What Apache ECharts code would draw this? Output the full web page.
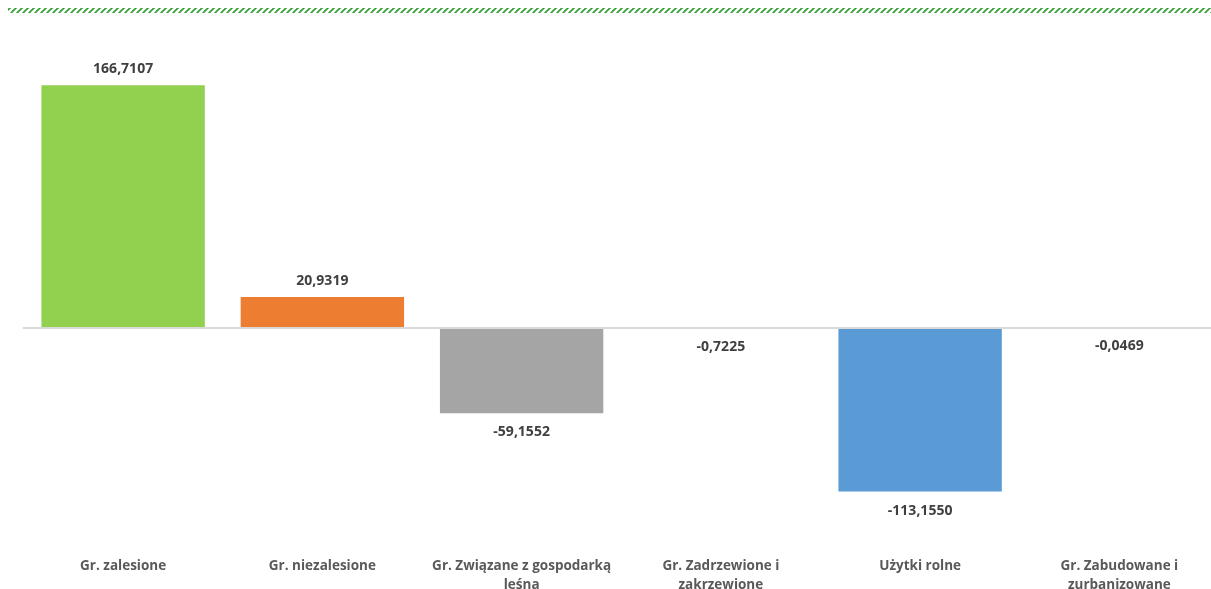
<!DOCTYPE html>
<html>
<head>
<meta charset="utf-8">
<script src="https://cdn.jsdelivr.net/npm/echarts@6/dist/echarts.min.js"></script>
<style>
  html, body { margin: 0; padding: 0; background: #fff; }
  #main { width: 1211px; height: 589px; }
</style>
</head>
<body>
<div id="main"></div>
<script>
var categories = ['Gr. zalesione', 'Gr. niezalesione', 'Gr. Związane z gospodarką\nleśna',
  'Gr. Zadrzewione i\nzakrzewione', 'Użytki rolne', 'Gr. Zabudowane i\nzurbanizowane'];
var values = [166.7107, 20.9319, -59.1552, -0.7225, -113.1550, -0.0469];
var barColors = ['#92d050', '#ed7d31', '#a5a5a5', '#ffc000', '#5b9bd5', '#70ad47'];

// hatched green strip at the top
var pat = document.createElement('canvas');
pat.width = 6; pat.height = 6;
var ctx = pat.getContext('2d');
ctx.strokeStyle = '#2e9e2e';
ctx.lineWidth = 1.6;
ctx.beginPath();
ctx.moveTo(0, 6); ctx.lineTo(6, 0);
ctx.moveTo(-3, 3); ctx.lineTo(3, -3);
ctx.moveTo(3, 9); ctx.lineTo(9, 3);
ctx.stroke();

var myChart = echarts.init(document.getElementById('main'));

var option = {
  animation: false,
  textStyle: { fontFamily: 'Open Sans' },
  graphic: [{
    type: 'rect',
    shape: { x: 8, y: 8, width: 1203, height: 5 },
    style: { fill: { image: pat, repeat: 'repeat' } }
  }],
  grid: { left: 23.5, width: 1195.5, top: 37, height: 508, outerBoundsMode: 'none', containLabel: false },
  xAxis: [
    {
      type: 'category',
      data: categories,
      axisLine: { show: false, onZero: false },
      axisTick: { show: false },
      axisLabel: {
        interval: 0,
        margin: 12,
        color: '#595959',
        fontWeight: 'bold',
        fontSize: 13.5,
        lineHeight: 19
      }
    },
    {
      type: 'category',
      data: categories,
      position: 'bottom',
      z: 10,
      axisLine: { show: true, onZero: true, lineStyle: { color: '#d9d9d9', width: 2 } },
      axisTick: { show: false },
      axisLabel: { show: false }
    }
  ],
  yAxis: {
    type: 'value',
    min: -150,
    max: 200,
    show: false,
    splitLine: { show: false }
  },
  series: [{
    type: 'bar',
    barWidth: '82%',
    data: values.map(function (v, i) {
      return {
        value: v,
        itemStyle: { color: barColors[i] },
        label: { position: v >= 0 ? 'top' : 'bottom', distance: v >= 0 ? 9 : 12 }
      };
    }),
    label: {
      show: true,
      color: '#404040',
      fontWeight: 'bold',
      fontSize: 14,
      formatter: function (p) {
        return p.value.toFixed(4).replace('.', ',');
      }
    }
  }]
};

myChart.setOption(option);
</script>
</body>
</html>
